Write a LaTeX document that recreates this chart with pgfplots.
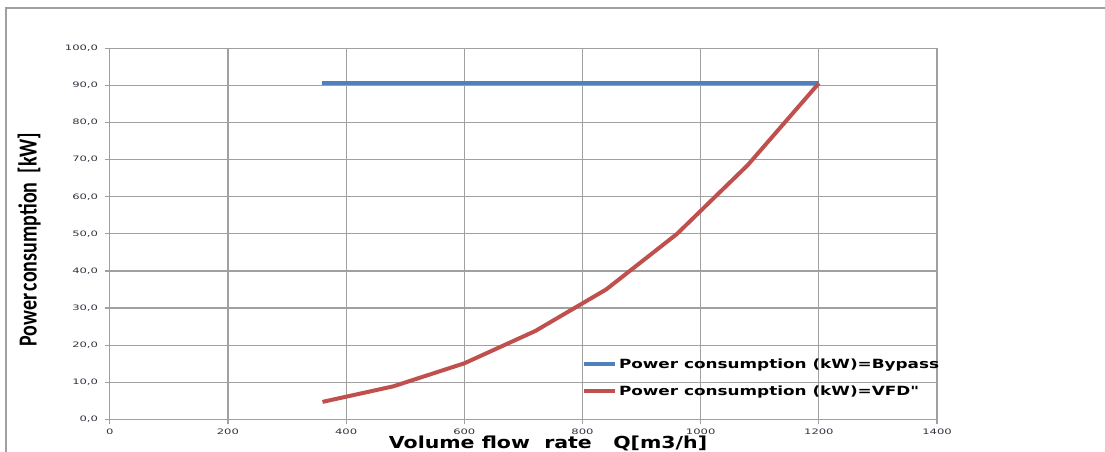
\documentclass[border=0pt]{standalone}
\usepackage{fontspec}
\usepackage{graphicx}
\usepackage{pgfplots}
\pgfplotsset{compat=1.18}
\setmainfont{DejaVu Sans}
\newfontfamily\carlito{Carlito}
\newfontfamily\legfont{DejaVu Sans}
\definecolor{xlblue}{HTML}{4F81BD}
\definecolor{xlred}{HTML}{C0504D}
\definecolor{gridgray}{HTML}{A0A0A0}
\definecolor{tickcol}{HTML}{303040}
\newcommand\tkl[1]{\scalebox{1.55}[1]{#1}}
\newcommand\lgt[1]{\scalebox{1.33}[1]{#1}}
\begin{document}
\begin{tikzpicture}
\useasboundingbox (0,0) rectangle (828.75pt,-339pt);
\draw[gridgray, line width=1pt] (4.5pt,-345pt) -- (4.5pt,-6pt) -- (835pt,-6pt);
\begin{axis}[
  at={(82.3pt,-314.5pt)}, anchor=south west,
  scale only axis, width=620.5pt, height=278.25pt,
  xmin=0, xmax=1400, ymin=0, ymax=100,
  xtick={0,200,...,1400}, ytick={0,10,...,100},
  xticklabels={\tkl{0},\tkl{200},\tkl{400},\tkl{600},\tkl{800},\tkl{1000},\tkl{1200},\tkl{1400}},
  yticklabels={{\tkl{0,0}},{\tkl{10,0}},{\tkl{20,0}},{\tkl{30,0}},{\tkl{40,0}},{\tkl{50,0}},{\tkl{60,0}},{\tkl{70,0}},{\tkl{80,0}},{\tkl{90,0}},{\tkl{100,0}}},
  grid=major,
  major grid style={gridgray, line width=0.9pt},
  axis line style={gridgray, line width=0.9pt},
  tick style={gridgray, line width=0.9pt},
  tick align=outside, major tick length=3.75pt,
  xtick pos=lower, ytick pos=left,
  ticklabel style={font=\fontsize{5.6}{6.5}\selectfont, text=tickcol},
  yticklabel style={xshift=-1.5pt},
  xlabel={\scalebox{1.24}[1]{\bfseries Volume flow\ \ rate\ \ \ Q[m3/h]}},
  xlabel style={at={(axis description cs:0.5298,-0.0639)}, anchor=center, font=\fontsize{12.4}{14}\selectfont},
  ylabel={\scalebox{1}[1.3]{\carlito\bfseries Power\kern0.12em consumption\ \ [kW]}},
  ylabel style={at={(axis description cs:-0.0975,0.4846)}, anchor=center, font=\fontsize{15}{17}\selectfont},
  legend style={draw=none, fill=none, inner sep=0pt, at={(axis description cs:0.5709,0.17)}, anchor=north west,
    font=\legfont\fontsize{9.5}{11}\selectfont\bfseries, row sep=8.5pt, nodes={inner sep=1.5pt}},
  legend cell align=left,
  legend image code/.code={\draw[#1, line width=3pt] (0pt,0pt) -- (23pt,0pt);},
]
\addplot[xlblue, line width=3pt] coordinates {(360,90.6) (1200,90.6)};
\addlegendentry{\lgt{Power consumption (kW)=Bypass}}
\addplot[xlred, line width=3pt, line join=round] coordinates {
  (360,4.7) (480,8.9) (600,15.1) (720,23.8) (840,35.0) (960,50.0) (1080,68.6) (1200,90.6)};
\addlegendentry{\lgt{Power consumption (kW)=VFD"}}
\end{axis}
\end{tikzpicture}
\end{document}
